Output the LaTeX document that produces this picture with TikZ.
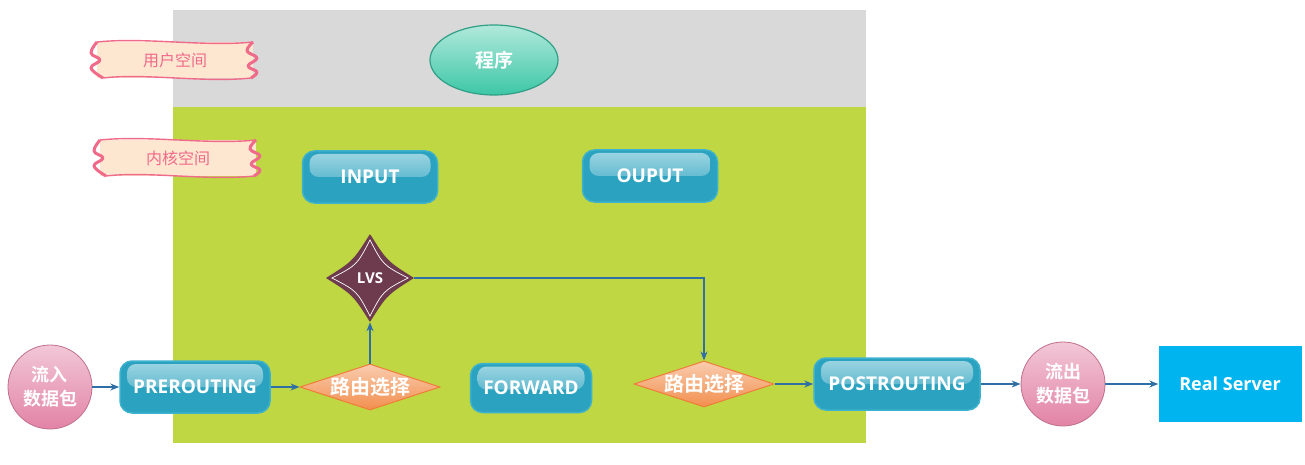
\documentclass[tikz,border=0pt]{standalone}
\usepackage{fontspec}
\setmainfont{Open Sans}
\newfontfamily\cjk{Noto Sans CJK SC}[BoldFont={Noto Sans CJK SC Bold}]
\usepackage{tikz}
\usetikzlibrary{arrows.meta,positioning,shapes.geometric}

\definecolor{usergray}{HTML}{D9D9D9}
\definecolor{kernelgreen}{HTML}{BED742}
\definecolor{hookblue}{HTML}{2BA3C0}
\definecolor{hookedge}{HTML}{3DB2CE}
\definecolor{routeorange}{HTML}{F28F4E}
\definecolor{routeedge}{HTML}{F07C3A}
\definecolor{packetpink}{HTML}{E283A5}
\definecolor{lvsred}{HTML}{6E3A4E}
\definecolor{progteal}{HTML}{3CC7A6}
\definecolor{serverblue}{HTML}{00B5EF}
\definecolor{flowblue}{HTML}{2F6FA6}
\definecolor{tagpink}{HTML}{F06A8A}
\definecolor{tagfill}{HTML}{FDE7D1}

% wavy ribbon round a tag node
\newcommand{\tagframe}[1]{%
  \begin{scope}[shift={(#1.center)}]
    \draw[tagpink, line width=1.4pt] (-78,-18) .. controls (-30,-23) and (30,-13) .. (78,-18);
    \draw[tagpink, line width=1.4pt] (-72,18) .. controls (-30,13) and (30,23) .. (76,18);
    \draw[tagpink, line width=3pt, line join=round] plot[smooth, tension=0.7]
      coordinates {(-78,-18) (-84,-7) (-75,0) (-84,8) (-72,18)};
    \draw[tagpink, line width=3pt, line join=round] plot[smooth, tension=0.7]
      coordinates {(78,-18) (72,-9) (82,-2) (73,6) (82,12) (76,18)};
  \end{scope}}

\begin{document}
\begin{tikzpicture}[
  x=1pt, y=-1pt,
  hook/.style={draw=hookedge, line width=1.5pt, fill=hookblue, rounded corners=12pt,
    minimum width=135pt, minimum height=52pt, text=white,
    font=\bfseries\fontsize{19}{22}\selectfont,
    path picture={\shade[top color=white!55!hookblue, bottom color=hookblue, rounded corners=9pt]
      ([xshift=7pt,yshift=-3pt]path picture bounding box.north west) rectangle
      ([xshift=-7pt,yshift=-26pt]path picture bounding box.north east);}},
  route/.style={diamond, aspect=3, inner sep=0pt, draw=routeedge, line width=1pt,
    top color=white!55!routeorange, bottom color=routeorange,
    minimum width=140pt, minimum height=46pt, text=white,
    font=\cjk\bfseries\fontsize{20}{22}\selectfont},
  packet/.style={circle, draw=packetpink!85!black, line width=0.8pt, minimum size=84pt, inner sep=0pt,
    top color=white!55!packetpink, bottom color=packetpink, align=center, text=white,
    font=\cjk\bfseries\fontsize{18}{24}\selectfont},
  prog/.style={ellipse, draw=progteal!80!black, line width=1.2pt, minimum width=128pt, minimum height=70pt,
    top color=white!60!progteal, bottom color=progteal, text=white,
    font=\cjk\bfseries\fontsize{19}{22}\selectfont},
  server/.style={rectangle, fill=serverblue, minimum width=143pt, minimum height=76pt, text=white,
    font=\bfseries\fontsize{18}{22}\selectfont},
  tag/.style={rectangle, fill=tagfill, minimum width=156pt, minimum height=36pt, inner sep=0pt,
    text=tagpink, font=\cjk\fontsize{16}{18}\selectfont},
  lvsstar/.style={diamond, aspect=1, inner sep=0pt, minimum width=88pt, minimum height=88pt, text=white,
    font=\bfseries\fontsize{15}{18}\selectfont,
    path picture={
      \coordinate (lvsc) at (path picture bounding box.center);
      \fill[lvsred] ([yshift=44pt]lvsc) .. controls ([xshift=17pt,yshift=17pt]lvsc) .. ([xshift=44pt]lvsc)
        .. controls ([xshift=17pt,yshift=-17pt]lvsc) .. ([yshift=-44pt]lvsc)
        .. controls ([xshift=-17pt,yshift=-17pt]lvsc) .. ([xshift=-44pt]lvsc)
        .. controls ([xshift=-17pt,yshift=17pt]lvsc) .. cycle;
      \draw[white, line width=0.7pt] ([yshift=38pt]lvsc) .. controls ([xshift=13pt,yshift=13pt]lvsc) .. ([xshift=38pt]lvsc)
        .. controls ([xshift=13pt,yshift=-13pt]lvsc) .. ([yshift=-38pt]lvsc)
        .. controls ([xshift=-13pt,yshift=-13pt]lvsc) .. ([xshift=-38pt]lvsc)
        .. controls ([xshift=-13pt,yshift=13pt]lvsc) .. cycle;}},
  flow/.style={draw=flowblue, line width=1.1pt, -{Stealth[length=9pt,width=7pt]}}
]
\useasboundingbox (0,0) rectangle (1305,465);

% user space and kernel space
\fill[usergray] (173,10) rectangle (866,107);
\fill[kernelgreen] (173,107) rectangle (866,443);

\node[tag] (user) at (175,60) {用户空间};
\tagframe{user}
\node[tag] (kernel) at (178,158) {内核空间};
\tagframe{kernel}
\node[prog] (program) at (494,60) {程序};

% netfilter hooks
\node[hook] (input) at (370,177) {INPUT};
\node[hook] (output) at (650,176) {OUPUT};
\node[lvsstar] (lvs) at (370,278) {LVS};
\node[hook, minimum width=150pt] (pre) at (195,387) {PREROUTING};
\node[route] (route1) at (370,387) {路由选择};
\node[hook, minimum width=121pt, minimum height=49pt] (forward) at (531,388) {FORWARD};
\node[route] (route2) at (704,384) {路由选择};
\node[hook, minimum width=166pt] (post) at (897,384) {POSTROUTING};

\node[packet] (in) at (50,387) {流入\\数据包};
\node[packet] (out) at (1063,384) {流出\\数据包};
\node[server] (server) at (1230,384) {Real Server};

\draw[flow] (in) -- (pre);
\draw[flow] (pre) -- (route1);
\draw[flow] (route1) -- (lvs);
\draw[flow] (lvs.east) -| (route2.north);
\draw[flow] (route2) -- (post);
\draw[flow] (post) -- (out);
\draw[flow] (out) -- (server);
\end{tikzpicture}
\end{document}
